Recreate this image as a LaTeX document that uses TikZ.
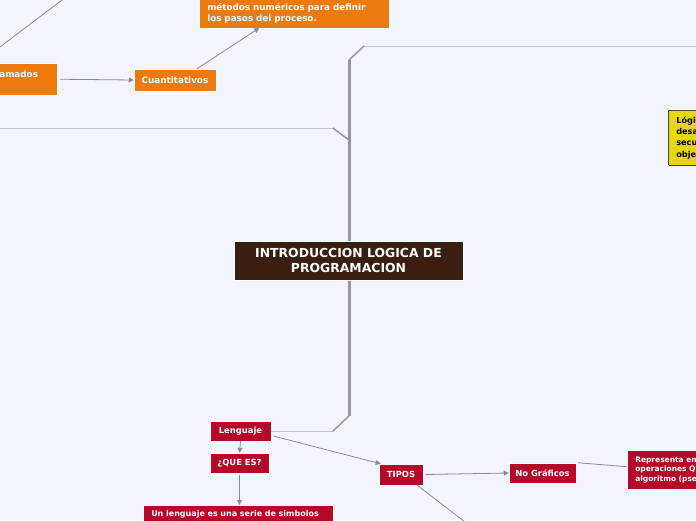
\documentclass[tikz,border=0pt]{standalone}
\usepackage{fontspec}
\setmainfont{DejaVu Sans}
\usetikzlibrary{arrows.meta,shadows}
\definecolor{bg}{RGB}{242,245,254}
\definecolor{orangeC}{RGB}{237,122,14}
\definecolor{redC}{RGB}{178,10,40}
\definecolor{brownC}{RGB}{58,30,16}
\definecolor{yellowC}{RGB}{230,214,22}
\definecolor{trunkC}{RGB}{150,152,160}
\definecolor{thinC}{RGB}{196,198,210}
\definecolor{connC}{RGB}{136,138,148}
\tikzset{
  box/.style={draw=white, line width=0.5pt, inner sep=0pt, text=white,
    font=\bfseries\fontsize{8.4}{10}\selectfont,
    drop shadow={shadow xshift=0.8pt, shadow yshift=-0.8pt, opacity=0.3, fill=black}},
  orgbox/.style={box, fill=orangeC, font=\bfseries\fontsize{8.8}{11}\selectfont},
  redbox/.style={box, fill=redC},
  conn/.style={draw=connC, line width=0.8pt, -{Triangle[length=5pt,width=5pt]}},
  plainconn/.style={draw=connC, line width=0.8pt},
  trunk/.style={draw=trunkC, line width=3pt},
  twig/.style={draw=trunkC, line width=1.5pt},
  thin/.style={draw=thinC, line width=1pt}
}
\begin{document}
\begin{tikzpicture}[x=1pt,y=-1pt]
\useasboundingbox (0,0) rectangle (696,520);
\clip (0,0) rectangle (696,520);
\fill[bg] (0,0) rectangle (696,520);

% trunk coordinates
\coordinate (tTop) at (349,60);
\coordinate (tTopBend) at (364,46);
\coordinate (tTopEnd) at (705,46);
\coordinate (tLeft) at (349,140);
\coordinate (tLeftBend) at (333,128);
\coordinate (tLeftEnd) at (-5,128);
\coordinate (tBot) at (349,416);
\coordinate (tBotBend) at (333,431);

% nodes
\node[redbox, minimum width=61, minimum height=20] (leng) at (240.5,431) {Lenguaje};

\draw[thin] (tTopBend) -- (tTopEnd);
\draw[twig] (tTop) -- (tTopBend);
\draw[thin] (tLeftEnd) -- (tLeftBend);
\draw[twig] (tLeftBend) -- (tLeft);
\draw[thin] (leng.east) -- (tBotBend);
\draw[twig] (tBotBend) -- (tBot);
\draw[trunk] (tTop) -- (tBot);

\node[box, fill=brownC, minimum width=229, minimum height=39, align=center,
  font=\bfseries\fontsize{12.4}{15}\selectfont] (title) at (348.5,260.5)
  {INTRODUCCION LOGICA DE\\PROGRAMACION};

\node[orgbox, text width=58pt, minimum height=32, align=left, anchor=north east,
  inner xsep=8pt] (llam) at (57,63) {Llamados\\\phantom{x}};
\node[orgbox, minimum width=82, minimum height=22] (cuant) at (175,80) {Cuantitativos};
\node[orgbox, anchor=south west, text width=174pt, align=left, inner xsep=8pt,
  inner ysep=4pt] (metod) at (199,28)
  {\phantom{x}\\métodos numéricos para definir\\los pasos del proceso.};

\node[draw=black, line width=0.6pt, fill=yellowC, rounded corners=1pt, anchor=north west,
  text width=110pt, align=left, inner xsep=8pt, inner ysep=6pt, minimum height=55pt,
  font=\bfseries\fontsize{8.2}{11.3}\selectfont,
  drop shadow={shadow xshift=0.8pt, shadow yshift=-0.8pt, opacity=0.3, fill=black}]
  (logica) at (668,110) {Lógica es la\\desarrollar una\\secuencia de\\objetivo};

\node[redbox, minimum width=59, minimum height=20] (quees) at (239.5,463) {¿QUE ES?};
\node[redbox, anchor=north west, text width=174pt, align=left, inner xsep=8pt,
  inner ysep=5pt, font=\bfseries\fontsize{8}{10}\selectfont]
  (unleng) at (143,505)
  {Un lenguaje es una serie de simbolos};
\node[redbox, minimum width=44, minimum height=21] (tipos) at (401,474.5) {TIPOS};
\node[redbox, minimum width=67, minimum height=20] (nograf) at (542.5,473) {No Gráficos};
\node[redbox, anchor=north west, text width=170pt, align=left, inner xsep=8pt,
  inner ysep=4pt, minimum height=39pt, font=\bfseries\fontsize{7.5}{9.3}\selectfont]
  (repres) at (627,450)
  {Representa en forma descriptiva las\\operaciones Que debe realizar un\\algoritmo (pseudocodigo)};

% free ends
\coordinate (offA) at (-8,53);
\coordinate (offB) at (70,-6);
\coordinate (offC) at (478,532);

% connectors
\draw[plainconn] (offA) -- (offB);
\draw[conn] ([xshift=3pt]llam.east) -- (cuant.west);
\draw[conn] ([xshift=22pt]cuant.north) -- ([xshift=-35pt]metod.south);
\draw[conn] (leng.south) -- (quees.north);
\draw[conn] ([yshift=-2pt]quees.south) -- (unleng.north -| quees.south);
\draw[conn] ([xshift=2pt,yshift=-5pt]leng.east) -- ([xshift=2pt]tipos.north west);
\draw[conn] ([xshift=2pt]tipos.east) -- (nograf.west);
\draw[plainconn] ([xshift=2pt]nograf.north east) -- ([yshift=3pt]repres.west);
\draw[plainconn] ([xshift=-6pt]tipos.south east) -- (offC);
\end{tikzpicture}
\end{document}
